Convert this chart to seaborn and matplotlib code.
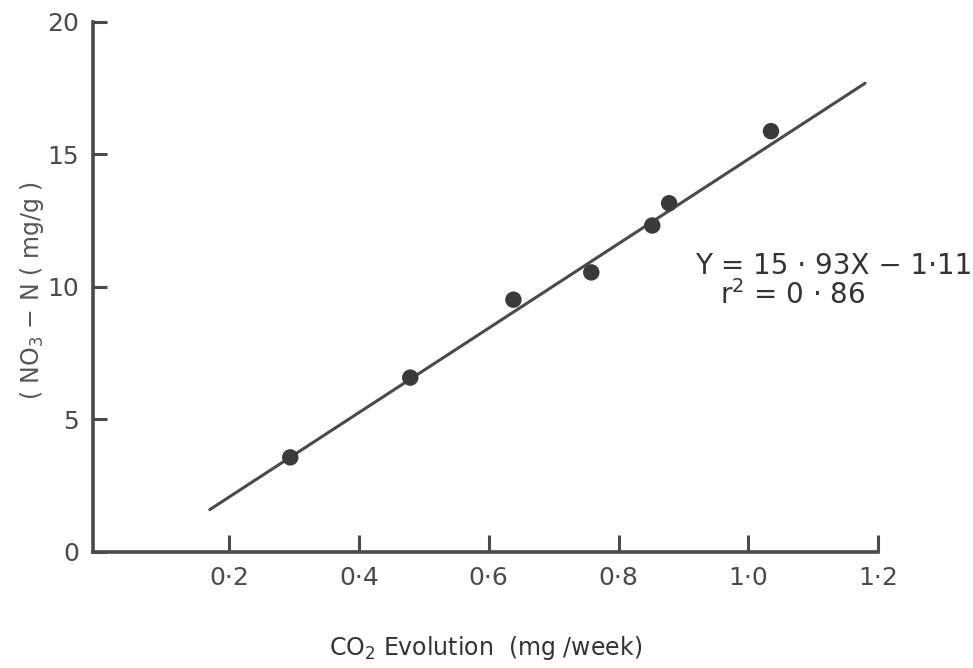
import numpy as np
import pandas as pd
import matplotlib
matplotlib.use("Agg")
import matplotlib.pyplot as plt
import seaborn as sns

# values
co2 = [0.294, 0.479, 0.638, 0.758, 0.852, 0.878, 1.035]
no3 = [3.57, 6.58, 9.52, 10.55, 12.32, 13.16, 15.88]
slope = 15.93
intercept = -1.11
line_x = [0.17, 1.18]

x_ticks = [0.2, 0.4, 0.6, 0.8, 1.0, 1.2]
x_labels = ["0·2", "0·4", "0·6", "0·8", "1·0", "1·2"]
y_ticks = [0, 5, 10, 15, 20]

df = pd.DataFrame({"co2": co2, "no3": no3})
fit = pd.DataFrame({"x": line_x, "y": [slope * v + intercept for v in line_x]})

sns.set_theme(style="white")
plt.rcParams["font.family"] = ["DejaVu Sans"]
ink = "#4a4a4a"

fig = plt.figure(figsize=(9.73, 6.68), dpi=100)
ax = fig.add_axes([0.0956, 0.1737, 0.8068, 0.7934])

sns.lineplot(data=fit, x="x", y="y", ax=ax, color=ink, linewidth=2.2)
sns.scatterplot(data=df, x="co2", y="no3", ax=ax, color="#3a3a3a",
                s=140, edgecolor="none", zorder=3)

ax.set_xlim(-0.01, 1.2)
ax.set_ylim(0, 20)
ax.set_xticks(x_ticks)
ax.set_xticklabels(x_labels)
ax.set_yticks(y_ticks)
ax.tick_params(axis="both", direction="in", length=10, width=2.2,
               colors=ink, labelsize=18, pad=10, bottom=True, left=True)
ax.tick_params(axis="x", length=12)

sns.despine(ax=ax)
for side in ["left", "bottom"]:
    ax.spines[side].set_linewidth(2.6)
    ax.spines[side].set_color(ink)

ax.set_xlabel(r"CO$_2$ Evolution  (mg /week)", fontsize=17, color="#333333")
ax.xaxis.set_label_coords(0.5, -0.155)
ax.set_ylabel(r"( NO$_3$ $-$ N ( mg/g )", fontsize=17, color="#555555")
ax.yaxis.set_label_coords(-0.06, 0.494)

ax.text(0.918, 10.8, "Y = 15 · 93X − 1·11", fontsize=20, color="#333333",
        va="center", ha="left", clip_on=False)
ax.text(0.957, 9.7, r"r$^2$ = 0 · 86", fontsize=20, color="#333333",
        va="center", ha="left", clip_on=False)

fig.savefig("out.png", dpi=100)
